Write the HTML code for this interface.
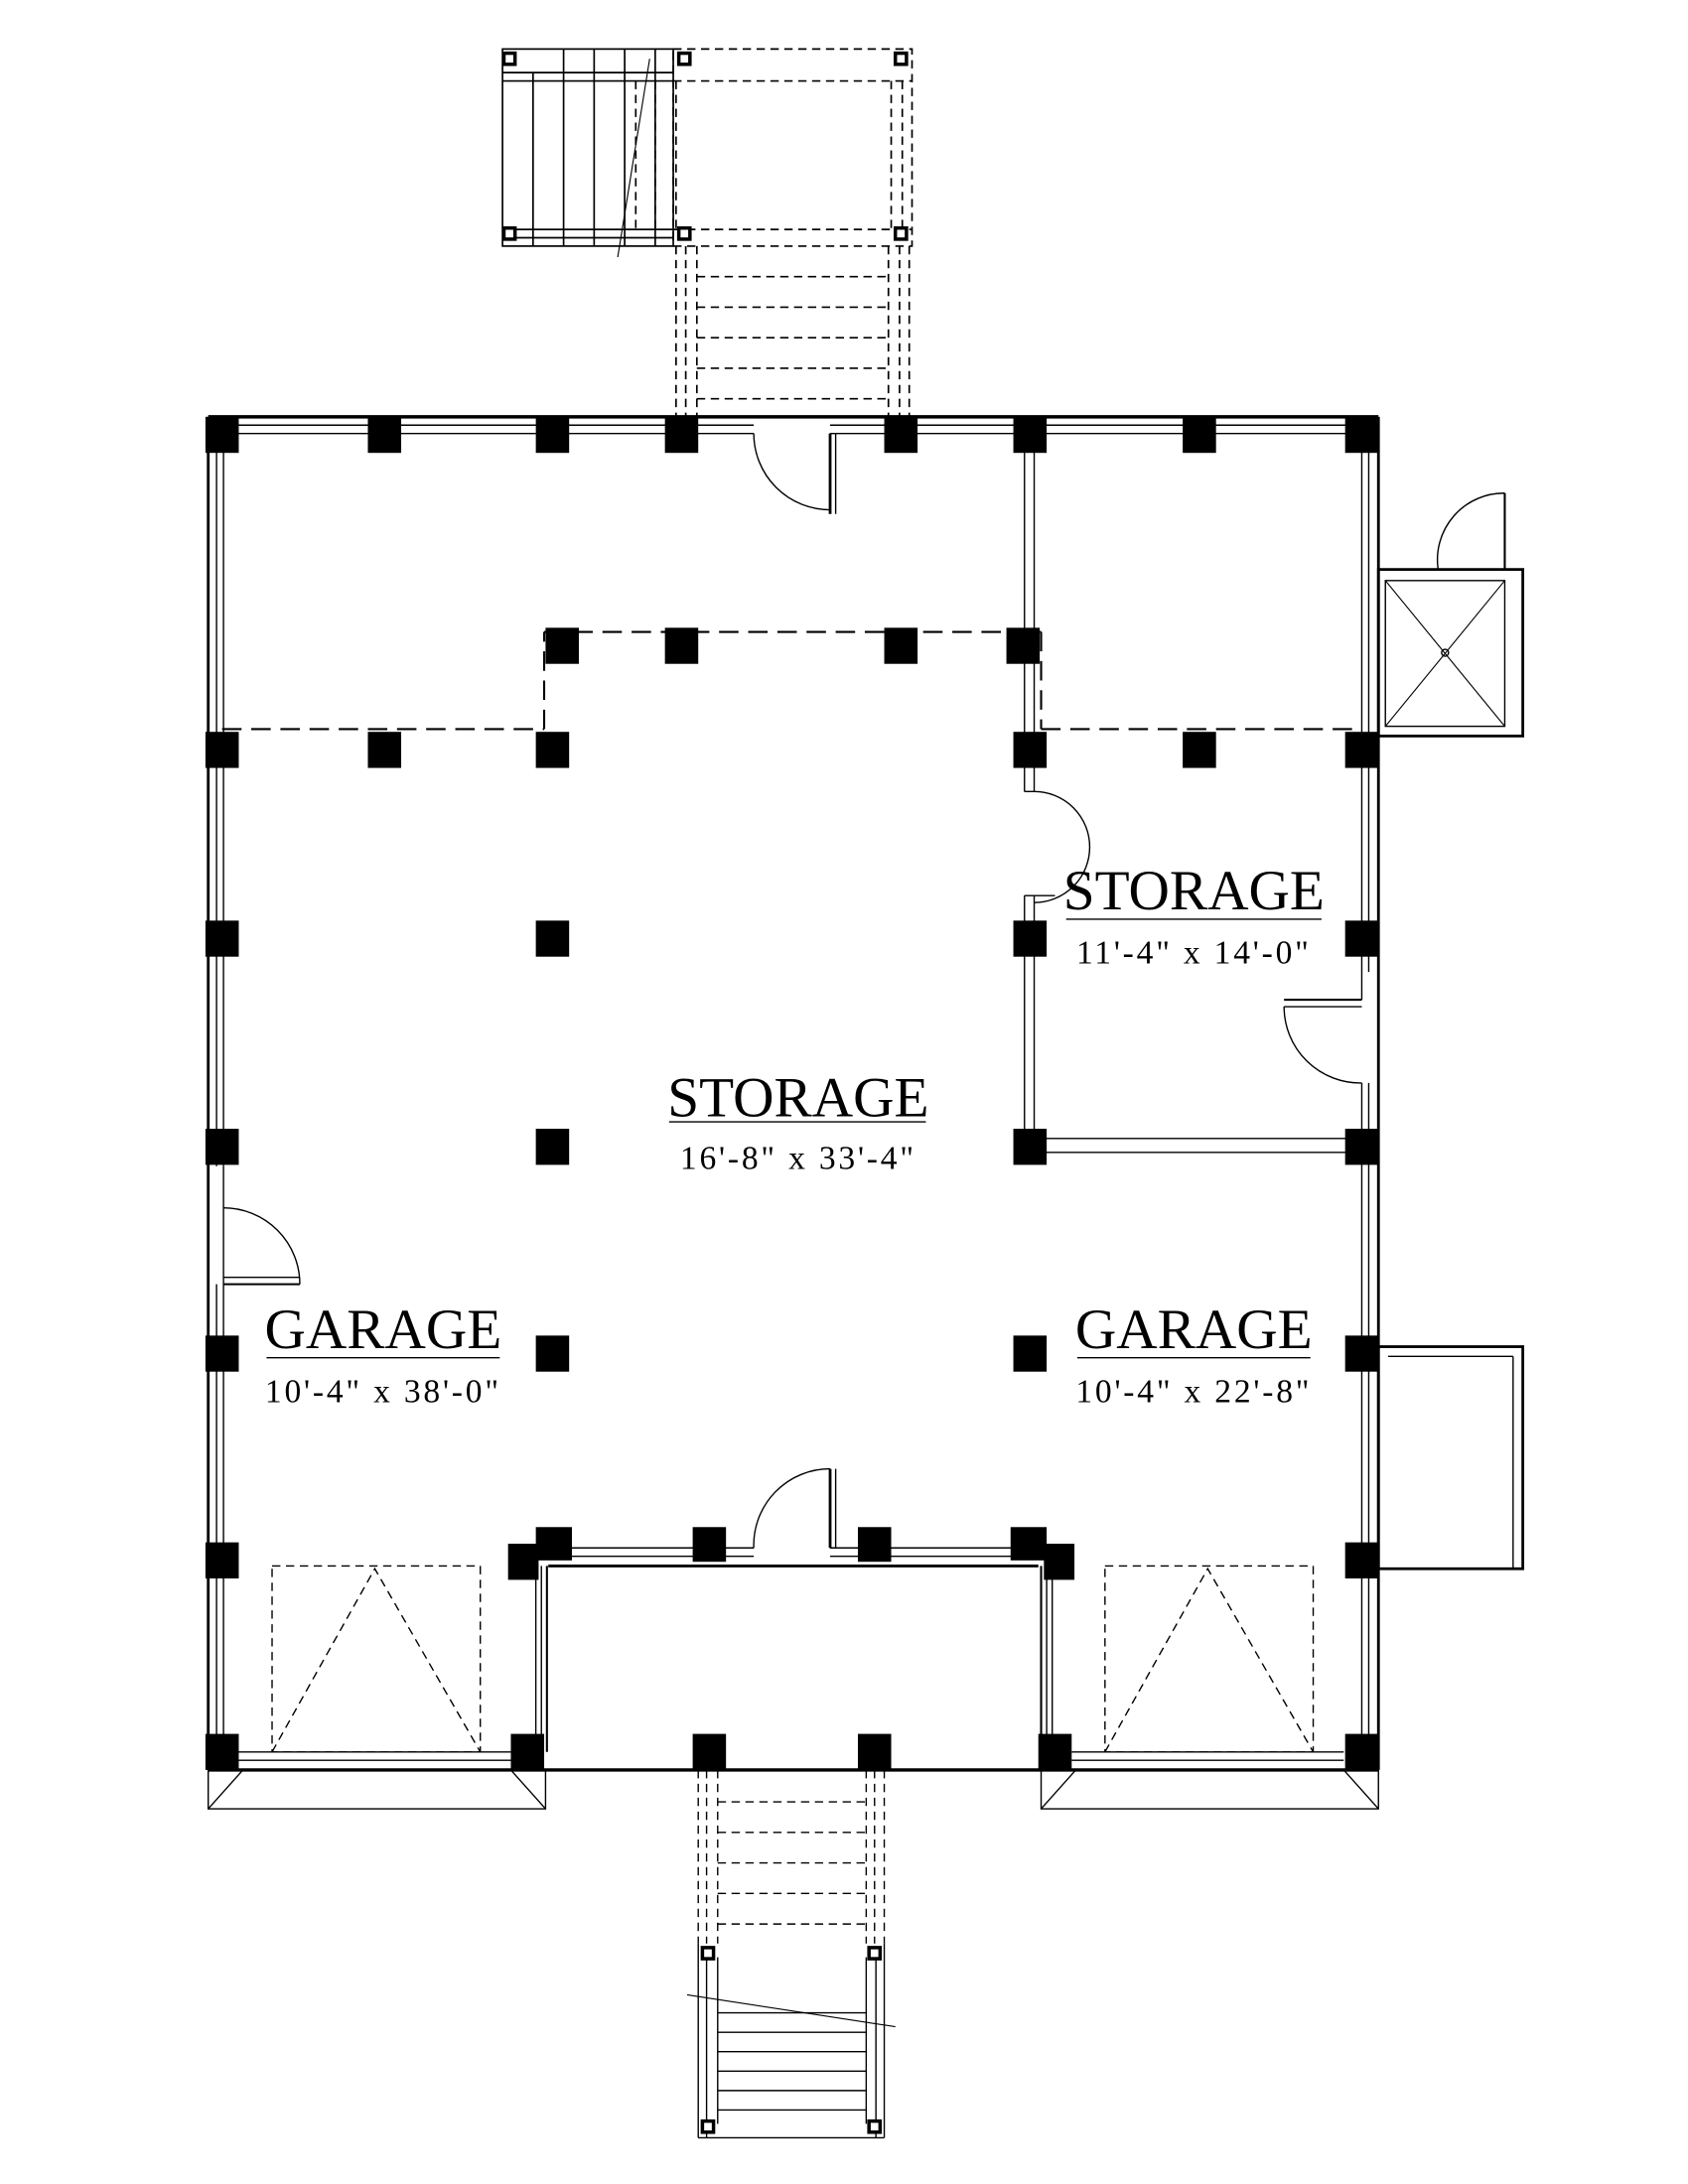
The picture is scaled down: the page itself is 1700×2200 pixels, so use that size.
<!DOCTYPE html>
<html><head><meta charset="utf-8"><style>
html,body{margin:0;padding:0;background:#fff;}
svg{display:block;}
text{font-family:"Liberation Serif",serif;fill:#000;}
</style></head><body>
<svg width="1700" height="2200" viewBox="0 0 1216 1573" xmlns="http://www.w3.org/2000/svg">
<g fill="none" stroke="#000" stroke-width="1.2">
<!-- TOP STAIRS -->
<rect x="362" y="35" width="123" height="142"/>
<line x1="362" y1="52" x2="485" y2="52"/><line x1="362" y1="58" x2="485" y2="58"/>
<line x1="362" y1="165" x2="485" y2="165"/><line x1="362" y1="171" x2="485" y2="171"/>
<line x1="384" y1="52" x2="384" y2="177"/><line x1="406" y1="35" x2="406" y2="177"/><line x1="428" y1="35" x2="428" y2="177"/><line x1="450" y1="35" x2="450" y2="177"/><line x1="472" y1="35" x2="472" y2="177"/>
<line x1="468" y1="42" x2="445" y2="185" stroke-width="0.8"/>
<g stroke-dasharray="6,4">
<rect x="485" y="35" width="172" height="142"/>
<line x1="485" y1="58" x2="657" y2="58"/><line x1="485" y1="165" x2="657" y2="165"/>
<line x1="458" y1="58" x2="458" y2="165"/><line x1="472" y1="58" x2="472" y2="165"/>
<line x1="487" y1="58" x2="487" y2="165"/><line x1="642" y1="58" x2="642" y2="165"/><line x1="650" y1="58" x2="650" y2="165"/>
<line x1="487" y1="177" x2="487" y2="300"/><line x1="494" y1="177" x2="494" y2="300"/><line x1="502" y1="177" x2="502" y2="300"/>
<line x1="640" y1="177" x2="640" y2="300"/><line x1="648" y1="177" x2="648" y2="300"/><line x1="655" y1="177" x2="655" y2="300"/>
<line x1="502" y1="199" x2="640" y2="199"/><line x1="502" y1="221" x2="640" y2="221"/><line x1="502" y1="243" x2="640" y2="243"/><line x1="502" y1="265" x2="640" y2="265"/><line x1="502" y1="287" x2="640" y2="287"/>
</g>
</g>
<g fill="#fff" stroke="#000" stroke-width="2.5">
<rect x="363" y="38" width="8" height="8"/><rect x="489" y="38" width="8" height="8"/><rect x="645" y="38" width="8" height="8"/>
<rect x="363" y="164" width="8" height="8"/><rect x="489" y="164" width="8" height="8"/><rect x="645" y="164" width="8" height="8"/>
</g>

<!-- OUTER WALLS -->
<g fill="none" stroke="#000">
<line x1="150" y1="300" x2="993" y2="300" stroke-width="2.5"/>
<line x1="160" y1="306" x2="543" y2="306" stroke-width="1"/><line x1="160" y1="312" x2="543" y2="312" stroke-width="1"/>
<line x1="598" y1="306" x2="980" y2="306" stroke-width="1"/><line x1="598" y1="312" x2="980" y2="312" stroke-width="1"/>
<line x1="150" y1="300" x2="150" y2="1275" stroke-width="2"/>
<line x1="156" y1="312" x2="156" y2="840" stroke-width="1"/><line x1="161" y1="312" x2="161" y2="840" stroke-width="1"/>
<line x1="156" y1="925" x2="156" y2="1262" stroke-width="1"/><line x1="161" y1="925" x2="161" y2="1262" stroke-width="1"/>
<line x1="993" y1="300" x2="993" y2="1275" stroke-width="2"/>
<line x1="986" y1="312" x2="986" y2="700" stroke-width="1"/><line x1="981" y1="312" x2="981" y2="720" stroke-width="1"/>
<line x1="986" y1="780" x2="986" y2="1262" stroke-width="1"/><line x1="981" y1="780" x2="981" y2="1262" stroke-width="1"/>
<line x1="150" y1="1275" x2="993" y2="1275" stroke-width="2.5"/>
<line x1="172" y1="1268" x2="368" y2="1268" stroke-width="1"/><line x1="172" y1="1262" x2="368" y2="1262" stroke-width="1"/>
<line x1="772" y1="1268" x2="968" y2="1268" stroke-width="1"/><line x1="772" y1="1262" x2="968" y2="1262" stroke-width="1"/>

<path d="M543 312 A55 55 0 0 0 598 367" stroke-width="1"/>
<line x1="598" y1="312" x2="598" y2="370" stroke-width="2"/><line x1="602" y1="312" x2="602" y2="370" stroke-width="1"/>

<line x1="738" y1="312" x2="738" y2="570" stroke-width="1"/><line x1="745" y1="312" x2="745" y2="570" stroke-width="1"/>
<line x1="738" y1="570" x2="745" y2="570" stroke-width="1"/>
<path d="M745 570 A40 40 0 0 1 785 610 A40 40 0 0 1 745 650" stroke-width="1"/>
<line x1="738" y1="645" x2="738" y2="826" stroke-width="1"/><line x1="745" y1="645" x2="745" y2="826" stroke-width="1"/>
<line x1="738" y1="645" x2="760" y2="645" stroke-width="1"/>
<line x1="745" y1="820" x2="980" y2="820" stroke-width="1"/><line x1="745" y1="830" x2="980" y2="830" stroke-width="1"/>
<line x1="925" y1="720" x2="981" y2="720" stroke-width="1.5"/><line x1="925" y1="725" x2="981" y2="725" stroke-width="1"/>
<path d="M925 725 A55 55 0 0 0 981 780" stroke-width="1"/>

<line x1="161" y1="840" x2="161" y2="925"/>
<path d="M161 870 A55 55 0 0 1 216 925" stroke-width="1"/>
<line x1="161" y1="920" x2="216" y2="920" stroke-width="1"/><line x1="161" y1="925" x2="216" y2="925" stroke-width="1.5"/>

<g stroke-width="1.5" stroke-dasharray="14,7">
<line x1="160" y1="525" x2="392" y2="525"/><line x1="392" y1="525" x2="392" y2="455"/>
<line x1="392" y1="455" x2="750" y2="455"/><line x1="750" y1="455" x2="750" y2="525"/>
<line x1="750" y1="525" x2="980" y2="525"/>
</g>

<line x1="395" y1="1115" x2="543" y2="1115" stroke-width="1"/><line x1="395" y1="1121" x2="543" y2="1121" stroke-width="1"/>
<line x1="598" y1="1115" x2="745" y2="1115" stroke-width="1"/><line x1="598" y1="1121" x2="745" y2="1121" stroke-width="1"/>
<line x1="395" y1="1128" x2="748" y2="1128" stroke-width="2"/>
<line x1="386" y1="1128" x2="386" y2="1262" stroke-width="1"/><line x1="390" y1="1128" x2="390" y2="1262" stroke-width="1"/><line x1="394" y1="1128" x2="394" y2="1262" stroke-width="1.5"/>
<line x1="750" y1="1128" x2="750" y2="1262" stroke-width="1.5"/><line x1="754" y1="1128" x2="754" y2="1262" stroke-width="1"/><line x1="758" y1="1128" x2="758" y2="1262" stroke-width="1"/>
<path d="M543 1115 A55 55 0 0 1 598 1058" stroke-width="1"/>
<line x1="598" y1="1058" x2="598" y2="1115" stroke-width="2"/><line x1="602" y1="1058" x2="602" y2="1115" stroke-width="1"/>

<g stroke-width="1" stroke-dasharray="6,4">
<rect x="196" y="1128" width="150" height="134"/>
<polyline points="196,1262 270,1130 346,1262"/>
<rect x="796" y="1128" width="150" height="134"/>
<polyline points="796,1262 870,1130 946,1262"/>
</g>
<g stroke-width="1">
<rect x="150" y="1275" width="243" height="28"/><line x1="150" y1="1303" x2="175" y2="1275"/><line x1="393" y1="1303" x2="368" y2="1275"/>
<rect x="750" y="1275" width="243" height="28"/><line x1="750" y1="1303" x2="775" y2="1275"/><line x1="993" y1="1303" x2="968" y2="1275"/>
</g>

<rect x="993" y="410" width="104" height="120" stroke-width="2"/>
<rect x="998" y="418" width="86" height="105" stroke-width="1"/>
<line x1="998" y1="418" x2="1084" y2="523" stroke-width="0.8"/><line x1="1084" y1="418" x2="998" y2="523" stroke-width="0.8"/>
<circle cx="1041" cy="470" r="2.5" stroke-width="1"/>
<line x1="1084" y1="410" x2="1084" y2="355" stroke-width="1.5"/>
<path d="M1084 355 A48 48 0 0 0 1036 410" stroke-width="1"/>
<rect x="993" y="970" width="104" height="160" stroke-width="2"/>
<line x1="1000" y1="977" x2="1090" y2="977" stroke-width="1"/><line x1="1090" y1="977" x2="1090" y2="1130" stroke-width="1"/>

<g stroke-width="1" stroke-dasharray="6,4">
<line x1="503" y1="1275" x2="503" y2="1400"/><line x1="509" y1="1275" x2="509" y2="1400"/><line x1="517" y1="1275" x2="517" y2="1400"/>
<line x1="624" y1="1275" x2="624" y2="1400"/><line x1="630" y1="1275" x2="630" y2="1400"/><line x1="637" y1="1275" x2="637" y2="1400"/>
<line x1="517" y1="1298" x2="624" y2="1298"/><line x1="517" y1="1320" x2="624" y2="1320"/><line x1="517" y1="1342" x2="624" y2="1342"/><line x1="517" y1="1364" x2="624" y2="1364"/><line x1="517" y1="1386" x2="624" y2="1386"/>
</g>
<line x1="503" y1="1400" x2="503" y2="1540"/><line x1="637" y1="1400" x2="637" y2="1540"/>
<line x1="509" y1="1410" x2="509" y2="1540"/><line x1="631" y1="1410" x2="631" y2="1540"/>
<line x1="517" y1="1410" x2="517" y2="1530"/><line x1="624" y1="1410" x2="624" y2="1530"/>
<line x1="503" y1="1540" x2="637" y2="1540"/>
<line x1="517" y1="1450" x2="624" y2="1450"/><line x1="517" y1="1464" x2="624" y2="1464"/><line x1="517" y1="1478" x2="624" y2="1478"/><line x1="517" y1="1492" x2="624" y2="1492"/><line x1="517" y1="1506" x2="624" y2="1506"/><line x1="517" y1="1520" x2="624" y2="1520"/>
<line x1="495" y1="1437" x2="645" y2="1460" stroke-width="0.8"/>
</g>
<g fill="#fff" stroke="#000" stroke-width="2.5">
<rect x="506" y="1403" width="8" height="8"/><rect x="626" y="1403" width="8" height="8"/>
<rect x="506" y="1528" width="8" height="8"/><rect x="626" y="1528" width="8" height="8"/>
</g>

<g fill="#000">
<rect x="148" y="300" width="24" height="26"/><rect x="265" y="300" width="24" height="26"/><rect x="386" y="300" width="24" height="26"/><rect x="479" y="300" width="24" height="26"/><rect x="637" y="300" width="24" height="26"/><rect x="730" y="300" width="24" height="26"/><rect x="852" y="300" width="24" height="26"/><rect x="969" y="300" width="24" height="26"/>
<rect x="393" y="452" width="24" height="26"/><rect x="479" y="452" width="24" height="26"/><rect x="637" y="452" width="24" height="26"/><rect x="725" y="452" width="24" height="26"/>
<rect x="148" y="527" width="24" height="26"/><rect x="265" y="527" width="24" height="26"/><rect x="386" y="527" width="24" height="26"/><rect x="730" y="527" width="24" height="26"/><rect x="852" y="527" width="24" height="26"/><rect x="969" y="527" width="24" height="26"/>
<rect x="148" y="663" width="24" height="26"/><rect x="386" y="663" width="24" height="26"/><rect x="730" y="663" width="24" height="26"/><rect x="969" y="663" width="24" height="26"/>
<rect x="148" y="813" width="24" height="26"/><rect x="386" y="813" width="24" height="26"/><rect x="730" y="813" width="24" height="26"/><rect x="969" y="813" width="24" height="26"/>
<rect x="148" y="962" width="24" height="26"/><rect x="386" y="962" width="24" height="26"/><rect x="730" y="962" width="24" height="26"/><rect x="969" y="962" width="24" height="26"/>
<rect x="148" y="1111" width="24" height="26"/><rect x="969" y="1111" width="24" height="26"/>
<rect x="366" y="1112" width="22" height="26"/><rect x="386" y="1100" width="26" height="24"/>
<rect x="499" y="1100" width="24" height="25"/><rect x="618" y="1100" width="24" height="25"/>
<rect x="728" y="1100" width="26" height="24"/><rect x="752" y="1112" width="22" height="26"/>
<rect x="148" y="1249" width="24" height="26"/><rect x="368" y="1249" width="24" height="26"/><rect x="499" y="1249" width="24" height="26"/><rect x="618" y="1249" width="24" height="26"/><rect x="748" y="1249" width="24" height="26"/><rect x="969" y="1249" width="24" height="26"/>
</g>

<g text-anchor="middle">
<text x="575" y="804" font-size="41">STORAGE</text>
<line x1="482" y1="808" x2="667" y2="808" stroke="#000" stroke-width="1"/>
<text x="575" y="842" font-size="24" letter-spacing="2">16'-8" x 33'-4"</text>
<text x="860" y="655" font-size="41">STORAGE</text>
<line x1="768" y1="662" x2="952" y2="662" stroke="#000" stroke-width="1"/>
<text x="860" y="694" font-size="24" letter-spacing="2">11'-4" x 14'-0"</text>
<text x="276" y="971" font-size="41">GARAGE</text>
<line x1="192" y1="978" x2="360" y2="978" stroke="#000" stroke-width="1"/>
<text x="276" y="1010" font-size="24" letter-spacing="2">10'-4" x 38'-0"</text>
<text x="860" y="971" font-size="41">GARAGE</text>
<line x1="776" y1="978" x2="944" y2="978" stroke="#000" stroke-width="1"/>
<text x="860" y="1010" font-size="24" letter-spacing="2">10'-4" x 22'-8"</text>
</g>
</svg>
</body></html>
